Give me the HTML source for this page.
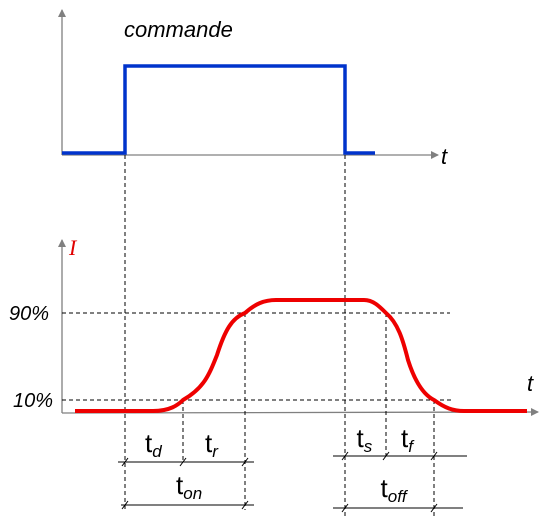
<!DOCTYPE html>
<html><head><meta charset="utf-8"><style>
html,body{margin:0;padding:0;background:#fff;}
svg{display:block;}
text{font-family:"Liberation Sans",sans-serif;font-style:italic;fill:#000;}
</style></head><body>
<svg id="chart" width="546" height="519" viewBox="0 0 546 519">
<defs>
<marker id="arr" markerWidth="8" markerHeight="8" refX="7" refY="4" orient="auto" markerUnits="userSpaceOnUse"><path d="M0,0 L8,4 L0,8 z" fill="#808080"/></marker>
</defs>
<g id="axes">
<line x1="62" y1="155" x2="62" y2="10" stroke="#808080" stroke-width="1.3" marker-end="url(#arr)"/>
<line x1="62" y1="155" x2="438" y2="155" stroke="#808080" stroke-width="1.3" marker-end="url(#arr)"/>
<text x="441" y="164" font-size="22">t</text>
<text x="124" y="37" font-size="22">commande</text>
<line x1="62" y1="413" x2="62" y2="240" stroke="#808080" stroke-width="1.3" marker-end="url(#arr)"/>
<line x1="62" y1="413" x2="538" y2="412" stroke="#808080" stroke-width="1.3" marker-end="url(#arr)"/>
<text x="527" y="391" font-size="22">t</text>
<text x="69" y="255" font-size="22" style="fill:#e00000;font-family:'Liberation Serif',serif">I</text>
<text x="9" y="320" font-size="20">90%</text>
<text x="13" y="407" font-size="20">10%</text>
</g>
<g id="guides"></g>
<g id="dims"></g>
<path id="cmd" fill="none" stroke="#0033cc" stroke-width="3.5"/>
<path id="cur" fill="none" stroke="#ee0000" stroke-width="4"/>
<g id="labels"></g>
</svg>
<script>
const eventNames = ["cmdOn","t10Rise","t90Rise","cmdOff","t90Fall","t10Fall"];
const eventTimes = [125, 183, 245, 345, 386, 434];
const cmdLevels = [0, 1, 1, 0];
const curLevels = [0, 0.1, 0.9, 1.0];
const spanLabels = ["d","r","on","s","f","off"];
const NS="http://www.w3.org/2000/svg";
const cmdY = v => 153 - v*87;
const curY = v => 411 - v*111;
const lvl10 = 400, lvl90 = 313;
function el(tag, attrs, parent){const e=document.createElementNS(NS,tag);for(const k in attrs)e.setAttribute(k,attrs[k]);parent.appendChild(e);return e;}
const T=eventTimes;
document.getElementById('cmd').setAttribute('d',
 `M62,${cmdY(cmdLevels[0])} H${T[0]} V${cmdY(cmdLevels[1])} H${T[3]} V${cmdY(cmdLevels[3])} H375`);
const yb=curY(curLevels[0]), yp=curY(curLevels[3]);
document.getElementById('cur').setAttribute('d',
 `M75,${yb} H153 C170,${yb} 178,405 ${T[1]},${lvl10} C204,388 209,375 217,355 C225,330 232,318 ${T[2]},${lvl90} C255,304 264,${yp} 276,${yp} H364 C373,${yp} 379,306 ${T[4]},${lvl90} C398,323 403,340 408,360 C415,382 424,395 ${T[5]},${lvl10} C445,408 453,${yb} 464,${yb} H527`);
const g=document.getElementById('guides');
const dash={stroke:"#000","stroke-width":1,"stroke-dasharray":"4,3",fill:"none"};
let l;
l=el('line',Object.assign({x1:62,y1:lvl90,x2:450,y2:lvl90},dash),g);


l=el('line',Object.assign({x1:62,y1:lvl10,x2:452,y2:lvl10},dash),g);


const vtops=[155,lvl10,lvl90,155,lvl90,lvl10];
const vbots=[510,462,510,519,456,519];
T.forEach((x,i)=>{
 const v=el('line',Object.assign({x1:x,y1:vtops[i],x2:x,y2:vbots[i]},dash),g);
 
 
});
const d=document.getElementById('dims');
const dimRows=[[118,T[2]+9,462,[T[0],T[1],T[2]]],[121,T[2]+9,505,[T[0],T[2]]],[333,467,456,[T[3],T[4],T[5]]],[333,463,508,[T[3],T[5]]]];
dimRows.forEach((r,i)=>{
 const ln=el('line',{x1:r[0],y1:r[2],x2:r[1],y2:r[2],stroke:"#000","stroke-width":1},d);
 
 
 r[3].forEach(x=>{
  const tk=el('line',{x1:x-3,y1:r[2]+4,x2:x+3,y2:r[2]-4,stroke:"#000","stroke-width":1},d);
  
  
 });
});
const lab=document.getElementById('labels');
const labPos=[[(T[0]+T[1])/2,452],[(T[1]+T[2])/2,452],[(T[0]+T[2])/2,494],[(T[3]+T[4])/2,447],[(T[4]+T[5])/2,447],[(T[3]+T[5])/2,497]];
spanLabels.forEach((s,i)=>{
 const t=el('text',{x:labPos[i][0]-9,y:labPos[i][1],"font-size":"26"},lab);
 
 
 t.style.fontStyle='normal';
 t.textContent='t';
 const sub=el('tspan',{"font-size":"17",dy:"5"},t);
 sub.style.fontStyle='italic';
 sub.textContent=s;
});
</script>
</body></html>
